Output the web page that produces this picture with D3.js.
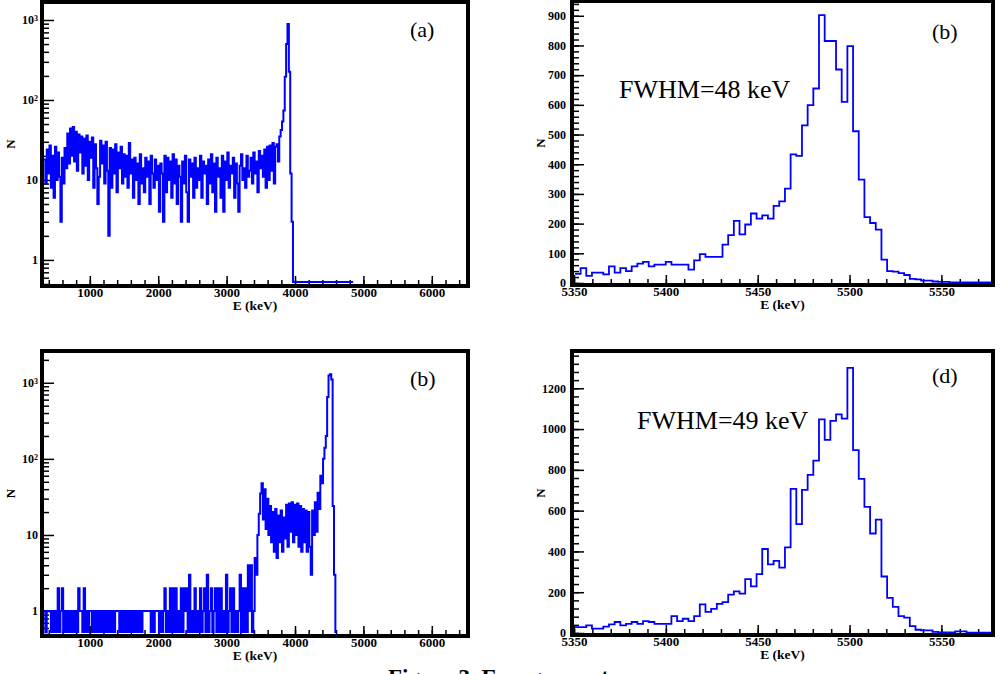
<!DOCTYPE html>
<html>
<head>
<meta charset="utf-8">
<script src="https://cdn.jsdelivr.net/npm/d3@7"></script>
<style>
  body { margin: 0; background: #fff; }
  text { font-family: "Liberation Serif", "Times New Roman", serif; }
</style>
</head>
<body>
<script>

// spectrum (a): 20 keV bins from 330 keV
const spectrumAStart = 330;
const spectrumABin = 20;
const spectrumA = [
  18, 9, 24, 12, 27, 8, 20, 6, 26, 10,
  22, 11, 3, 19, 9, 25, 14, 38, 16, 44,
  20, 46, 17, 40, 13, 37, 22, 35, 12, 33,
  15, 36, 10, 30, 19, 34, 8, 28, 14, 5,
  11, 31, 16, 27, 9, 30, 13, 2, 25, 8,
  24, 12, 28, 7, 22, 14, 26, 9, 21, 11,
  20, 8, 29, 12, 18, 6, 19, 10, 16, 5,
  21, 9, 14, 7, 19, 11, 17, 5, 20, 12,
  8, 18, 10, 15, 4, 16, 12, 3, 20, 7,
  19, 10, 17, 6, 21, 9, 18, 5, 15, 11,
  3, 17, 9, 20, 7, 3, 18, 11, 16, 6,
  19, 8, 14, 10, 20, 6, 17, 12, 15, 5,
  18, 9, 21, 7, 16, 4, 19, 11, 14, 6,
  20, 4, 17, 10, 22, 8, 15, 12, 19, 6,
  16, 9, 4, 15, 21, 10, 14, 8, 20, 11,
  13, 19, 9, 22, 12, 17, 7, 23, 14, 20,
  11, 24, 8, 26, 10, 27, 13, 29, 9, 26,
  28, 17, 35, 42, 54, 74, 195, 500, 890, 225,
  12, 3, 0, 0, 0, 0, 0, 0, 0, 0,
  0, 0, 0, 0, 0, 0, 0, 0, 0, 0, 0, 0,
  0, 0, 0, 0, 0, 0, 0, 0, 0, 0, 0, 0,
  0, 0, 0, 0, 0, 0, 0, 0, 0, 0, 0, 0
];

// spectrum (b) top right: ~3.09 keV bins
const spectrumBStart = 5350.5;
const spectrumBBin = 3.09;
const spectrumB = [
  31, 50, 24, 35, 35, 29, 56, 35, 50, 40,
  56, 65, 71, 56, 62, 62, 71, 62, 62, 62,
  45, 76, 97, 88, 88, 88, 129, 161, 209, 164,
  197, 234, 217, 228, 217, 260, 275, 318, 433, 428,
  531, 599, 655, 902, 815, 815, 719, 610, 798, 511,
  348, 222, 202, 180, 79, 40, 38, 33, 27, 14,
  12, 8, 8, 5, 4, 4, 2, 2, 2, 2,
  2, 2, 2, 2
];

// spectrum (c) bottom left: 20 keV bins from 330 keV
const spectrumCStart = 330;
const spectrumCBin = 20;
const spectrumC = [
  1, 0, 1, 1, 1, 0, 1, 0, 1, 0,
  2, 0, 1, 2, 0, 1, 0, 1, 0, 1,
  0, 1, 0, 1, 0, 2, 1, 1, 0, 2,
  0, 1, 0, 1, 1, 0, 1, 0, 1, 0,
  1, 0, 1, 0, 1, 0, 1, 0, 1, 0,
  1, 0, 1, 1, 1, 0, 1, 0, 1, 0,
  1, 0, 1, 0, 1, 0, 1, 0, 1, 0,
  1, 0, 1, 1, 1, 1, 1, 1, 0, 1,
  0, 1, 1, 1, 0, 1, 0, 1, 2, 0,
  1, 0, 2, 0, 2, 0, 2, 0, 1, 0,
  2, 0, 2, 1, 2, 0, 3, 0, 1, 0,
  2, 0, 1, 0, 2, 0, 1, 2, 0, 3,
  0, 1, 2, 0, 1, 2, 0, 2, 0, 2,
  0, 1, 0, 3, 0, 1, 2, 0, 2, 0,
  1, 0, 1, 3, 0, 2, 0, 2, 0, 4,
  1, 4, 0, 1, 5, 3, 10, 19, 35, 48,
  16, 40, 12, 30, 10, 24, 8, 20, 6, 22,
  5, 18, 8, 21, 6, 17, 9, 25, 7, 26,
  11, 27, 8, 25, 10, 26, 7, 24, 6, 22,
  8, 21, 6, 20, 7, 3, 21, 10, 27, 11,
  36, 22, 60, 48, 100, 140, 200, 650, 1250, 1290,
  1100, 24, 3, 0
];

// spectrum (d) bottom right
const spectrumDStart = 5350.5;
const spectrumDBin = 3.09;
const spectrumD = [
  29, 29, 37, 21, 21, 31, 42, 54, 37, 45,
  54, 45, 58, 54, 45, 45, 45, 83, 58, 70,
  58, 83, 140, 104, 118, 143, 151, 188, 204, 193,
  264, 229, 289, 412, 337, 354, 321, 420, 707, 534,
  702, 775, 845, 1048, 947, 1040, 1072, 1051, 1300, 897,
  756, 618, 488, 556, 277, 172, 128, 83, 75, 34,
  16, 13, 13, 6, 3, 3, 3, 8, 8, 2,
  2, 2, 2, 2
];

// tick labels
const xTicksWide = [1000, 2000, 3000, 4000, 5000, 6000];
const xTicksPeak = [5350, 5400, 5450, 5500, 5550];
const yTicksLog = [1, 10, 100, 1000];
const yTicksB = [0, 100, 200, 300, 400, 500, 600, 700, 800, 900];
const yTicksD = [0, 200, 400, 600, 800, 1000, 1200];

const panels = [
  {id: "a", x0: 44, x1: 466, y0: 4, y1: 284, log: true,
   xDomain: [330, 6500], yDomain: [0.5, 1585],
   start: spectrumAStart, bin: spectrumABin, values: spectrumA,
   xTicks: xTicksWide, xMinor: d3.range(400, 6500, 200),
   yTicks: yTicksLog, yPad: 6, lw: 2,
   tag: "(a)", tagX: 410, tagY: 37},
  {id: "b", x0: 574, x1: 991, y0: 3, y1: 283, log: false,
   xDomain: [5350, 5577], yDomain: [0, 943],
   start: spectrumBStart, bin: spectrumBBin, values: spectrumB,
   xTicks: xTicksPeak, xMinor: d3.range(5350, 5578, 10),
   yTicks: yTicksB, yMinor: d3.range(0, 943, 20), yPad: 8, lw: 1.8,
   tag: "(b)", tagX: 932, tagY: 39, note: "FWHM=48 keV", noteX: 619, noteY: 98},
  {id: "c", x0: 44, x1: 466, y0: 353, y1: 634, log: true,
   xDomain: [330, 6500], yDomain: [0.5, 2460],
   start: spectrumCStart, bin: spectrumCBin, values: spectrumC,
   xTicks: xTicksWide, xMinor: d3.range(400, 6500, 200),
   yTicks: yTicksLog, yPad: 6, lw: 2,
   tag: "(b)", tagX: 410, tagY: 386},
  {id: "d", x0: 574, x1: 991, y0: 353, y1: 633, log: false,
   xDomain: [5350, 5577], yDomain: [0, 1373],
   start: spectrumDStart, bin: spectrumDBin, values: spectrumD,
   xTicks: xTicksPeak, xMinor: d3.range(5350, 5578, 10),
   yTicks: yTicksD, yMinor: d3.range(0, 1373, 40), yPad: 8, lw: 1.8,
   tag: "(d)", tagX: 932, tagY: 383, note: "FWHM=49 keV", noteX: 637, noteY: 429}
];

const svg = d3.select("body").append("svg")
  .attr("width", 1001)
  .attr("height", 674);

const drawPanel = p => {
  const g = svg.append("g").attr("class", "panel-" + p.id);

  g.append("clipPath").attr("id", "clip-" + p.id)
    .append("rect")
    .attr("x", p.x0).attr("y", p.y0)
    .attr("width", p.x1 - p.x0).attr("height", p.y1 - p.y0);

  const x = d3.scaleLinear().domain(p.xDomain).range([p.x0, p.x1]);
  const y = (p.log ? d3.scaleLog() : d3.scaleLinear()).domain(p.yDomain).range([p.y1, p.y0]);

  // minor ticks first, majors on top
  let yMinor = p.yMinor;
  if (p.log) {
    yMinor = [];
    [0.1, 1, 10, 100, 1000].forEach(dec => {
      for (let k = 2; k <= 9; k++) {
        const v = dec * k;
        if (v >= p.yDomain[0] && v <= p.yDomain[1]) yMinor.push(v);
      }
    });
  }

  const styleTicks = sel => {
    sel.select(".domain").remove();
    sel.selectAll(".tick line").attr("stroke", "#000").attr("stroke-width", 1.5);
  };

  g.append("g")
    .attr("transform", "translate(0," + p.y1 + ")")
    .call(d3.axisBottom(x).tickValues(p.xMinor).tickSize(-4).tickFormat(""))
    .call(styleTicks);

  g.append("g")
    .attr("transform", "translate(" + p.x0 + ",0)")
    .call(d3.axisLeft(y).tickValues(yMinor).tickSize(-5).tickFormat(""))
    .call(styleTicks);

  g.append("g")
    .attr("transform", "translate(0," + p.y1 + ")")
    .call(d3.axisBottom(x).tickValues(p.xTicks).tickSize(-8).tickPadding(4).tickFormat(d3.format("d")))
    .call(styleTicks)
    .attr("font-family", "'Liberation Serif', 'Times New Roman', serif")
    .attr("font-size", 13)
    .attr("font-weight", "bold");

  const yAxisG = g.append("g")
    .attr("transform", "translate(" + p.x0 + ",0)")
    .call(d3.axisLeft(y).tickValues(p.yTicks).tickSize(-10).tickPadding(p.yPad).tickFormat(d3.format("d")))
    .call(styleTicks)
    .attr("font-family", "'Liberation Serif', 'Times New Roman', serif")
    .attr("font-size", 12)
    .attr("font-weight", "bold");

  // 10^2, 10^3 as superscripts on the log axes
  if (p.log) {
    yAxisG.selectAll(".tick text").each(function(d) {
      if (d >= 100) {
        const t = d3.select(this);
        t.text("10");
        t.append("tspan").attr("dy", "-0.45em").attr("font-size", 8)
          .text(Math.round(Math.log10(d)));
      }
    });
  }

  // histogram as a step line, empty bins sit on the floor
  const pts = p.values.map((v, i) => [p.start + i * p.bin, v]);
  pts.push([p.start + p.values.length * p.bin, p.values[p.values.length - 1]]);

  const step = d3.line()
    .curve(d3.curveStepAfter)
    .x(d => x(d[0]))
    .y(d => d[1] > 0 ? y(d[1]) : p.y1 - 2);

  g.append("path")
    .datum(pts)
    .attr("clip-path", "url(#clip-" + p.id + ")")
    .attr("d", step)
    .attr("fill", "none")
    .attr("stroke", "#0000ff")
    .attr("stroke-width", p.lw)
    .attr("stroke-linejoin", "miter");

  // thick frame
  g.append("rect")
    .attr("x", p.x0 - 2).attr("y", p.y0 - 2)
    .attr("width", p.x1 - p.x0 + 4).attr("height", p.y1 - p.y0 + 4)
    .attr("fill", "none")
    .attr("stroke", "#000")
    .attr("stroke-width", 4);

  // axis titles
  g.append("text")
    .attr("x", (p.x0 + p.x1) / 2)
    .attr("y", p.y1 + 26)
    .attr("text-anchor", "middle")
    .attr("font-size", 13.5)
    .attr("font-weight", "bold")
    .text("E (keV)");

  g.append("text")
    .attr("transform", "translate(" + (p.x0 - 29) + "," + ((p.y0 + p.y1) / 2) + ") rotate(-90)")
    .attr("text-anchor", "middle")
    .attr("font-size", 13)
    .attr("font-weight", "bold")
    .text("N");

  g.append("text")
    .attr("x", p.tagX).attr("y", p.tagY)
    .attr("font-size", 22)
    .text(p.tag);

  if (p.note) {
    g.append("text")
      .attr("x", p.noteX).attr("y", p.noteY)
      .attr("font-size", 26)
      .text(p.note);
  }
};

panels.forEach(drawPanel);

// caption, cut by the bottom edge of the picture
svg.append("text")
  .attr("x", 388)
  .attr("y", 685)
  .attr("font-size", 23)
  .attr("font-weight", "bold")
  .text("Figure 3. Energy spectra");

</script>
</body>
</html>
